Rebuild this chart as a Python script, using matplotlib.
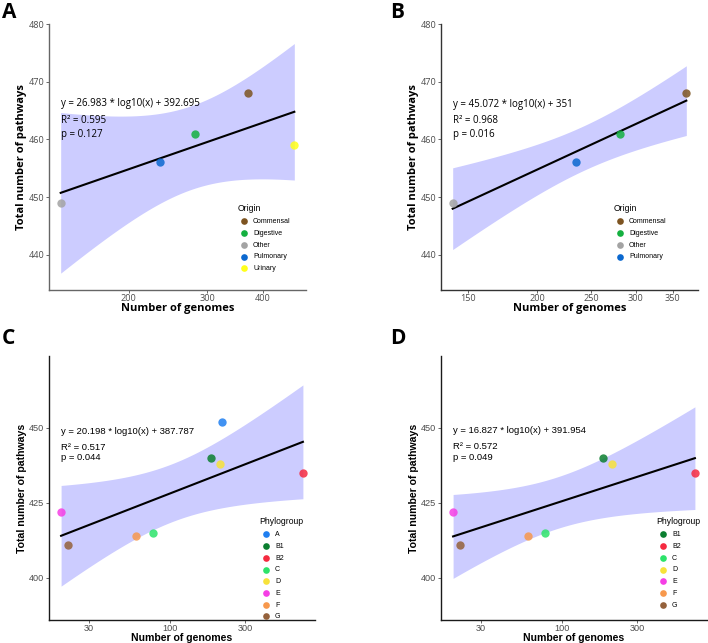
import matplotlib
matplotlib.use("Agg")
import matplotlib.pyplot as plt
import numpy as np

# ---- data ----
origin_names = ["Commensal", "Digestive", "Other", "Pulmonary", "Urinary"]
origin_genomes = [370, 281, 141, 235, 470]
origin_pathways = [468, 461, 449, 456, 459]
origin_colors = ["#7d5421", "#14b040", "#a3a3a3", "#0b68cf", "#ffff1a"]

phylo_names = ["A", "B1", "B2", "C", "D", "E", "F", "G"]
phylo_genomes = [213, 181, 703, 77, 207, 20, 60, 22]
phylo_pathways = [452, 440, 435, 415, 438, 422, 414, 411]
phylo_colors = ["#1f7ff0", "#0b7f30", "#f52a40", "#2ce36a", "#f7e23a",
                "#f53ee5", "#f7984c", "#94613b"]

equations = {
    "A": ["y = 26.983 * log10(x) + 392.695", "R\u00b2 = 0.595", "p = 0.127"],
    "B": ["y = 45.072 * log10(x) + 351", "R\u00b2 = 0.968", "p = 0.016"],
    "C": ["y = 20.198 * log10(x) + 387.787", "R\u00b2 = 0.517", "p = 0.044"],
    "D": ["y = 16.827 * log10(x) + 391.954", "R\u00b2 = 0.572", "p = 0.049"],
}
# 95% t quantiles for n-2 degrees of freedom
t_crit = {3: 3.182, 2: 4.303, 6: 2.447, 5: 2.571}

W, H = 708, 643
fig = plt.figure(figsize=(W / 100, H / 100), dpi=100)


def px_axes(left, top, right, bottom):
    return fig.add_axes([left / W, 1 - bottom / H, (right - left) / W, (bottom - top) / H])


def panel(ax, names, xs, ys, colors, eq, ylim, yticks, xticks, text_y, legend_title,
          legend_xy, font, spine_color, eq_size, title_size):
    xs = np.array(xs, float)
    ys = np.array(ys, float)
    lx = np.log10(xs)
    slope, icpt = np.polyfit(lx, ys, 1)
    n = len(xs)
    resid = ys - (slope * lx + icpt)
    s = np.sqrt(np.sum(resid ** 2) / (n - 2))
    sxx = np.sum((lx - lx.mean()) ** 2)
    grid = np.linspace(lx.min(), lx.max(), 200)
    fit = slope * grid + icpt
    se = s * np.sqrt(1 / n + (grid - lx.mean()) ** 2 / sxx)
    t = t_crit[n - 2]
    ax.fill_between(10 ** grid, fit - t * se, fit + t * se, color="#ccccff", lw=0, zorder=1)
    ax.plot(10 ** grid, fit, color="black", lw=1.5, zorder=2)
    for nm, x, y, c in zip(names, xs, ys, colors):
        ax.scatter(x, y, s=36, color=c, alpha=0.85, lw=0, zorder=3, label=nm)

    ax.set_xscale("log")
    span = lx.max() - lx.min()
    ax.set_xlim(10 ** (lx.min() - 0.05 * span), 10 ** (lx.max() + 0.05 * span))
    ax.set_ylim(*ylim)
    ax.set_xticks(xticks)
    ax.set_xticklabels([str(v) for v in xticks])
    ax.xaxis.set_minor_locator(matplotlib.ticker.NullLocator())
    ax.set_yticks(yticks)
    ax.tick_params(labelsize=6.6, colors="#4d4d4d", length=2, width=0.6, pad=1.2)
    for lab in ax.get_xticklabels() + ax.get_yticklabels():
        lab.set_family(font)
    for side in ["top", "right"]:
        ax.spines[side].set_visible(False)
    for side in ["left", "bottom"]:
        ax.spines[side].set_color(spine_color)
        ax.spines[side].set_linewidth(1.0)
    ax.set_xlabel("Number of genomes", fontsize=title_size, fontweight="bold", family=font,
                  labelpad=0)
    ax.set_ylabel("Total number of pathways", fontsize=title_size, fontweight="bold",
                  family=font, labelpad=1.5)

    for line, ty in zip(eq, text_y):
        ax.text(xs.min(), ty, line, fontsize=eq_size, family=font, ha="left", va="center",
                zorder=4)

    leg = ax.legend(title=legend_title, loc="upper left", bbox_to_anchor=legend_xy,
                    bbox_transform=fig.transFigure, frameon=False,
                    title_fontsize=6.2, borderpad=0, handletextpad=0.25, labelspacing=0.68,
                    markerscale=0.8, prop={"family": "Liberation Sans", "size": 5})
    leg.get_title().set_family("Liberation Sans")
    leg._legend_box.align = "left"
    for h in leg.legend_handles:
        h.set_alpha(1)


ax_a = px_axes(49, 24, 306, 290)
panel(ax_a, origin_names, origin_genomes, origin_pathways, origin_colors, equations["A"],
      (433.9, 480), [440, 450, 460, 470, 480], [200, 300, 400], [466.3, 463.3, 460.9],
      "Origin", (234 / W, 1 - 201 / H), "Open Sans", "#666666", 7.0, 8)

ax_b = px_axes(441, 24, 698, 290)
panel(ax_b, origin_names[:4], origin_genomes[:4], origin_pathways[:4], origin_colors[:4],
      equations["B"], (433.9, 480), [440, 450, 460, 470, 480], [150, 200, 250, 300, 350],
      [466.1, 463.3, 460.8], "Origin", (610 / W, 1 - 201 / H), "Open Sans", "#333333", 7.0, 8)

ax_c = px_axes(49, 356, 315, 620)
panel(ax_c, phylo_names, phylo_genomes, phylo_pathways, phylo_colors, equations["C"],
      (386, 474), [400, 425, 450], [30, 100, 300], [448.9, 443.6, 440.0],
      "Phylogroup", (256 / W, 1 - 514 / H), "Liberation Sans", "#1a1a1a", 6.8, 7.6)

ax_d = px_axes(441, 356, 707, 620)
panel(ax_d, phylo_names[1:], phylo_genomes[1:], phylo_pathways[1:], phylo_colors[1:],
      equations["D"], (386, 474), [400, 425, 450], [30, 100, 300], [449.1, 443.7, 440.0],
      "Phylogroup", (653 / W, 1 - 514 / H), "Liberation Sans", "#1a1a1a", 6.8, 7.6)

for letter, x, y in [("A", 2, 12), ("B", 390, 12), ("C", 2, 339), ("D", 390, 339)]:
    fig.text(x / W, 1 - y / H, letter, fontsize=15, fontweight="bold", family="Open Sans",
             ha="left", va="center")

fig.savefig("out.png", dpi=100)
